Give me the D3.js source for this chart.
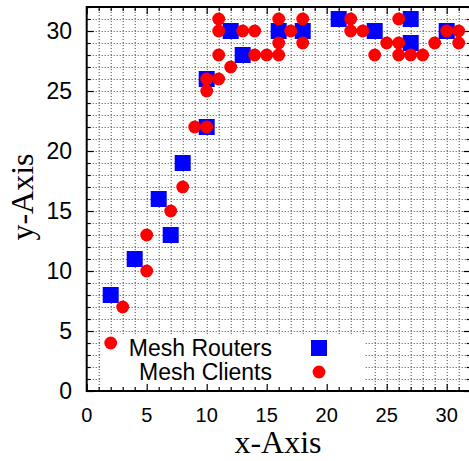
<!DOCTYPE html>
<html><head><meta charset="utf-8">
<script src="https://cdn.jsdelivr.net/npm/d3@7"></script>
<style>
html,body{margin:0;padding:0;background:#fff;overflow:hidden;}
</style></head>
<body>
<script>
// ---- data ----
const routerX = [2, 4, 6, 7, 8, 10, 10, 12, 13, 16, 18, 21, 24, 27, 27, 30];
const routerY = [8, 11, 16, 13, 19, 22, 26, 30, 28, 30, 30, 31, 30, 31, 29, 30];
const clientX = [2, 3, 5, 5, 7, 8, 9, 10, 10, 10, 11, 11, 11, 11, 12, 13, 14, 14, 15, 16, 16, 16, 17, 18, 18, 22, 22, 23, 24, 25, 26, 26, 26, 27, 28, 29, 30, 31, 31];
const clientY = [4, 7, 10, 13, 15, 17, 22, 22, 25, 26, 26, 28, 30, 31, 27, 30, 30, 28, 28, 28, 29, 31, 30, 31, 29, 31, 30, 30, 28, 29, 31, 29, 28, 28, 28, 29, 30, 30, 29];
const xTickLabels = [0, 5, 10, 15, 20, 25, 30];
const yTickLabels = [0, 5, 10, 15, 20, 25, 30];
const seriesNames = ["Mesh Routers", "Mesh Clients"];
const axisTitles = ["x-Axis", "y-Axis"];

const W = 469, H = 461;
const L = 86.7, R = 470.7, T = 7, B = 391;
const svg = d3.select("body").append("svg").attr("width", W).attr("height", H);
svg.append("rect").attr("width", W).attr("height", H).attr("fill", "#fff");

const x = d3.scaleLinear().domain([0, 32]).range([L, R]);
const y = d3.scaleLinear().domain([0, 32]).range([B, T]);
const unitTicks = d3.range(0, 33);

// grid
const gGrid = svg.append("g");
gGrid.append("g").attr("transform", `translate(0,${B})`)
  .call(d3.axisBottom(x).tickValues(unitTicks.slice(1, 32)).tickSize(-(B - T)).tickFormat(""))
  .call(g => g.select(".domain").remove());
gGrid.append("g").attr("transform", `translate(${L},0)`)
  .call(d3.axisLeft(y).tickValues(unitTicks.slice(1, 32)).tickSize(-(R - L)).tickFormat(""))
  .call(g => g.select(".domain").remove());
gGrid.selectAll("line").attr("stroke", "#444").attr("stroke-width", 1).attr("stroke-dasharray", "1,2");

// legend box (opaque)
svg.append("rect").attr("x", 100).attr("y", 336).attr("width", 264).attr("height", B - 336).attr("fill", "#fff");

// ticks (inward, mirrored)
const gTicks = svg.append("g");
function ticks(axisFn, scale, pos) {
  const minor = unitTicks.filter(v => v % 5 !== 0);
  const major = unitTicks.filter(v => v % 5 === 0);
  gTicks.append("g").attr("transform", pos)
    .call(axisFn(scale).tickValues(minor).tickSize(-4).tickFormat(""))
    .call(g => g.select(".domain").remove());
  gTicks.append("g").attr("transform", pos)
    .call(axisFn(scale).tickValues(major).tickSize(-7).tickFormat(""))
    .call(g => g.select(".domain").remove());
}
ticks(d3.axisBottom, x, `translate(0,${B})`);
ticks(d3.axisTop, x, `translate(0,${T})`);
ticks(d3.axisLeft, y, `translate(${L},0)`);
ticks(d3.axisRight, y, `translate(${R},0)`);
gTicks.selectAll("line").attr("stroke", "#000").attr("stroke-width", 1.2);

// border
svg.append("rect").attr("x", L).attr("y", T).attr("width", R - L).attr("height", B - T)
  .attr("fill", "none").attr("stroke", "#000").attr("stroke-width", 2);

// tick labels
svg.append("g").selectAll("text").data(xTickLabels).join("text")
  .attr("x", d => x(d)).attr("y", 421.5).attr("text-anchor", "middle")
  .attr("font-family", "Liberation Sans, Arial, sans-serif").attr("font-size", 20).attr("fill", "#000")
  .text(d => d);
svg.append("g").selectAll("text").data(yTickLabels).join("text")
  .attr("x", 72).attr("y", d => y(d)).attr("dy", "0.36em").attr("text-anchor", "end")
  .attr("font-family", "Liberation Sans, Arial, sans-serif").attr("font-size", 23).attr("fill", "#000")
  .text(d => d);

// axis titles
svg.append("text").attr("x", 278).attr("y", 452.5).attr("text-anchor", "middle")
  .attr("font-family", "Liberation Serif, Times New Roman, serif").attr("font-size", 32).attr("fill", "#000")
  .text(axisTitles[0]);
svg.append("text").attr("transform", "translate(33,197) rotate(-90)").attr("text-anchor", "middle")
  .attr("font-family", "Liberation Serif, Times New Roman, serif").attr("font-size", 32).attr("fill", "#000")
  .text(axisTitles[1]);

// data
const S = 16, RC = 6.4;
svg.append("g").selectAll("rect").data(routerX.map((v, i) => [v, routerY[i]])).join("rect")
  .attr("x", d => x(d[0]) - S / 2).attr("y", d => y(d[1]) - S / 2).attr("width", S).attr("height", S)
  .attr("fill", "#0000ff");
svg.append("g").selectAll("circle").data(clientX.map((v, i) => [v, clientY[i]])).join("circle")
  .attr("cx", d => x(d[0])).attr("cy", d => y(d[1])).attr("r", RC)
  .attr("fill", "#ff0000");

// legend
const lg = svg.append("g");
const rows = [348, 372];
lg.selectAll("text").data(seriesNames).join("text")
  .attr("x", 272).attr("y", (d, i) => rows[i]).attr("dy", "0.36em").attr("text-anchor", "end")
  .attr("font-family", "Liberation Sans, Arial, sans-serif").attr("font-size", 23).attr("fill", "#000")
  .text(d => d);
lg.append("rect").attr("x", 319 - S / 2).attr("y", rows[0] - S / 2).attr("width", S).attr("height", S).attr("fill", "#0000ff");
lg.append("circle").attr("cx", 319).attr("cy", rows[1]).attr("r", RC).attr("fill", "#ff0000");
</script>
</body></html>
